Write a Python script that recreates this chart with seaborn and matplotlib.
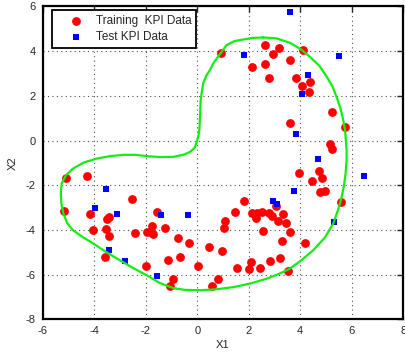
import matplotlib
matplotlib.use("Agg")
import matplotlib.pyplot as plt
import seaborn as sns
import pandas as pd

train_x = [0.91, 2.64, 3.18, 2.95, 2.64, 2.11, 3.60, 4.12, 2.80, 3.82, 4.38, 4.07, 4.34,
           5.23, 5.72, 3.59, 5.17, 5.23, 3.96, 4.71, 4.45, 4.85, 4.77, 4.97, 5.59,
           1.81, 1.48, 1.08, 1.05, 2.11, 2.27, 2.31, 2.52, 2.78, 2.89, 3.06, 3.33, 3.13,
           3.44, 2.56, 3.60, 3.29, 4.18, 0.45, 0.95, 0.04, 1.55, 2.01, 2.09, 2.43, 2.83,
           3.21, 3.51, 0.79, 0.57,
           -5.11, -4.30, -5.18, -2.52, -4.17, -3.52, -3.44, -4.04, -3.53, -3.43, -2.41,
           -1.55, -1.75, -1.94, -1.71, -1.27, -0.75, -0.31, -3.58, -1.13, -0.67, -2.00,
           -0.93, -1.07]
train_y = [3.92, 4.27, 4.12, 3.86, 3.42, 3.31, 3.61, 4.03, 2.78, 2.78, 2.60, 2.43, 2.19,
           1.28, 0.61, 0.77, -0.17, -0.39, -1.45, -1.38, -1.81, -1.66, -2.32, -2.26, -2.73,
           -2.69, -3.22, -3.61, -3.93, -3.24, -3.47, -3.24, -3.22, -3.24, -3.36, -2.93, -3.27, -3.60,
           -3.67, -4.05, -4.09, -4.50, -4.59, -4.76, -4.96, -5.63, -5.69, -5.76, -5.43, -5.70, -5.39,
           -5.26, -5.85, -6.18, -6.52,
           -1.66, -1.57, -3.15, -2.63, -3.29, -3.49, -3.43, -4.00, -3.97, -4.29, -4.14,
           -3.22, -3.82, -4.08, -4.16, -3.93, -4.36, -4.59, -5.23, -5.33, -5.20, -5.63,
           -6.20, -6.51]

test_x = [3.60, 1.80, 5.51, 4.29, 4.07, 3.82, 4.70, 6.49, 3.77, 2.94, 3.11, 5.31,
          -3.54, -3.96, -3.11, -1.41, -0.35, -3.44, -2.82, -1.57]
test_y = [5.76, 3.81, 3.78, 2.94, 2.10, 0.27, -0.82, -1.60, -2.27, -2.70, -2.84, -3.63,
          -2.15, -3.00, -3.29, -3.31, -3.35, -4.91, -5.41, -6.06]

boundary_x = [2.56, 3.08, 3.60, 4.00, 4.38, 4.75, 5.03, 5.25, 5.41, 5.56, 5.67, 5.74, 5.77,
              5.80, 5.80, 5.76, 5.70, 5.61, 5.47, 5.28, 4.95, 4.50, 4.05, 3.60, 3.15, 2.70,
              2.05, 1.40, 0.70, 0.10, -0.50, -0.93, -1.45, -1.96, -2.50, -3.00, -3.55,
              -4.04, -4.45, -4.82, -5.05, -5.20, -5.28, -5.30, -5.27, -5.10, -4.82,
              -4.40, -3.91, -3.40, -2.87, -2.40, -1.96, -1.45, -0.93, -0.55, -0.28,
              -0.10, -0.02, 0.04, 0.08, 0.10, 0.13, 0.18, 0.23, 0.35, 0.49, 0.62, 0.85,
              1.14, 1.45, 1.79, 2.15, 2.56]
boundary_y = [4.61, 4.57, 4.37, 4.10, 3.74, 3.33, 2.85, 2.42, 1.95, 1.45, 0.91, 0.45, 0.01,
              -0.45, -0.88, -1.48, -2.00, -2.52, -3.10, -3.72, -4.35, -4.91, -5.35, -5.73,
              -5.98, -6.18, -6.40, -6.56, -6.66, -6.70, -6.68, -6.60, -6.38, -6.03, -5.70,
              -5.36, -4.98, -4.61, -4.32, -4.02, -3.70, -3.27, -2.80, -2.37, -1.93, -1.55,
              -1.25, -0.98, -0.81, -0.70, -0.64, -0.64, -0.70, -0.74, -0.73, -0.64, -0.51,
              -0.32, -0.06, 0.20, 0.46, 0.90, 1.80, 2.20, 2.55, 2.90, 3.15, 3.45, 3.82,
              4.27, 4.45, 4.52, 4.59, 4.61]

x_ticks = [-6, -4, -2, 0, 2, 4, 6, 8]
y_ticks = [-8, -6, -4, -2, 0, 2, 4, 6]

sns.set_style("white")
plt.rcParams['font.family'] = ['Liberation Sans', 'DejaVu Sans']

fig = plt.figure(figsize=(4.05, 3.56), dpi=100)
ax = fig.add_axes([0.1057, 0.103, 0.890, 0.879])

train = pd.DataFrame({"X1": train_x, "X2": train_y})
test = pd.DataFrame({"X1": test_x, "X2": test_y})
bnd = pd.DataFrame({"X1": boundary_x, "X2": boundary_y})

sns.scatterplot(data=train, x="X1", y="X2", ax=ax, color="#ff0000", marker="o",
                s=40, edgecolor="#ff0000", linewidth=0, label="Training  KPI Data", zorder=3)
sns.scatterplot(data=test, x="X1", y="X2", ax=ax, color="#0000ff", marker="s",
                s=24, edgecolor="#0000ff", linewidth=0, label="Test KPI Data", zorder=3)
sns.lineplot(data=bnd, x="X1", y="X2", ax=ax, sort=False, estimator=None,
             color="#11ee11", linewidth=1.6, zorder=4, legend=False)

ax.set_xlim(-6, 8)
ax.set_ylim(-8, 6)
ax.set_xticks(x_ticks)
ax.set_yticks(y_ticks)
ax.set_xticklabels([str(t) for t in x_ticks], fontsize=8)
ax.set_yticklabels([str(t) for t in y_ticks], fontsize=8)
ax.set_xlabel("X1", fontsize=8, labelpad=3)
ax.set_ylabel("X2", fontsize=8, labelpad=6)
ax.grid(True, linestyle=(0, (1, 3)), color="#505050", linewidth=0.8)
ax.tick_params(direction="in", length=4, width=1, top=True, right=True, pad=5)
for sp in ax.spines.values():
    sp.set_visible(True)
    sp.set_color("black")
    sp.set_linewidth(1.6)

leg = ax.legend(loc="upper left", bbox_to_anchor=(0.0255, 0.988), fontsize=8.5,
                frameon=True, fancybox=False, edgecolor="black", borderpad=0.4,
                labelspacing=0.35, handlelength=3.2, handletextpad=0.1, borderaxespad=0)
leg.get_frame().set_linewidth(1.3)
leg.get_frame().set_alpha(1)

fig.savefig("out.png", dpi=100)
